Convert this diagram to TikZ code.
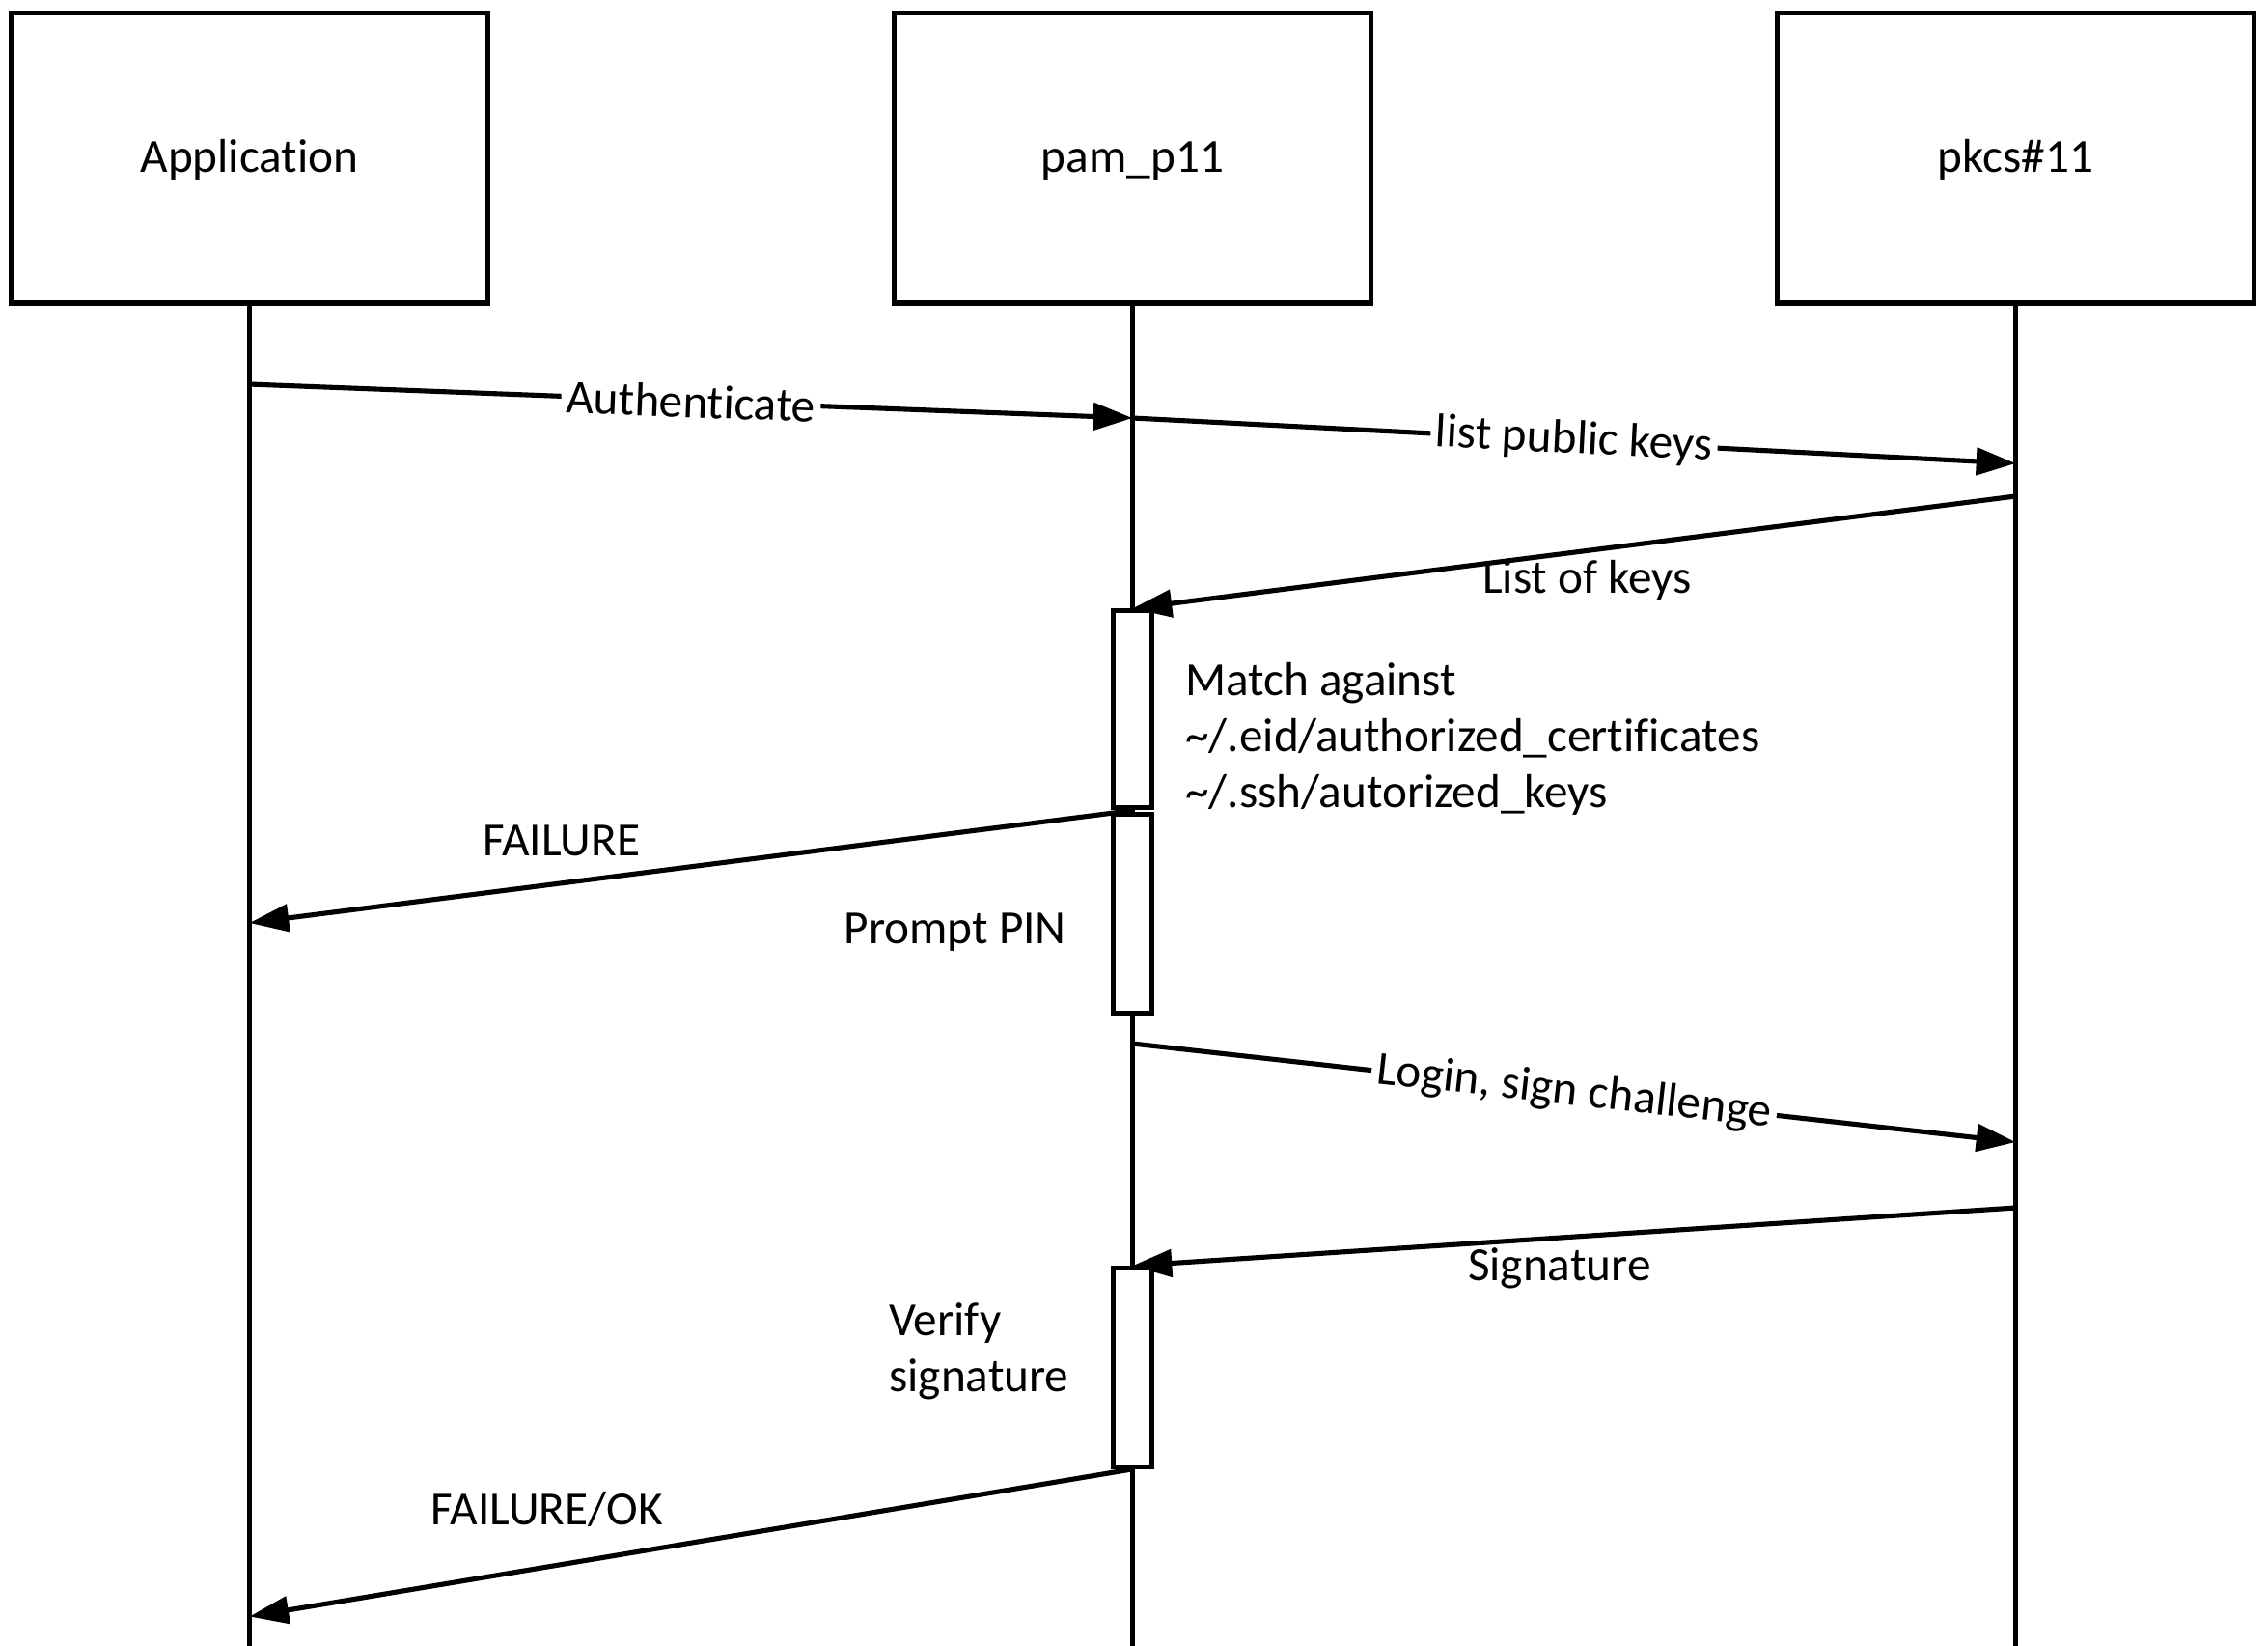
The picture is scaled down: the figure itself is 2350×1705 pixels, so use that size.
\documentclass[tikz,border=0pt]{standalone}
\usepackage{fontspec}
\setmainfont{Carlito}[Ligatures={NoCommon}]
\usetikzlibrary{arrows.meta}
\begin{document}
\begin{tikzpicture}[x=0.01cm,y=-0.01cm,
  every node/.style={font=\fontsize{14pt}{16.6pt}\selectfont},
  actor/.style={draw, line width=1.6pt, minimum width=4.94cm, minimum height=3.0cm,
    text height=10.5pt, text depth=2.1pt, inner sep=0pt},
  lifeline/.style={line width=1.2pt},
  actbox/.style={draw, fill=white, line width=1.3pt, minimum width=0.4cm, inner sep=0pt},
  msg/.style={line width=1.45pt, -{Triangle[length=11.6pt,width=8pt]}},
  onmsg/.style={sloped, fill=white, inner sep=1.5pt, midway},
  txt/.style={inner sep=0pt, anchor=base}]
\useasboundingbox (0,0) rectangle (2350,1705);
% actors
\node[actor] (app) at (258.5,163.6) {Application};
\node[actor] (pam) at (1173.5,163.6) {pam\_p11};
\node[actor] (pk) at (2088.5,163.6) {pkcs\#11};
% lifelines
\coordinate (appEnd) at (258.5,1705);
\coordinate (pamEnd) at (1173.5,1705);
\coordinate (pkEnd) at (2088.5,1705);
\draw[lifeline] (app.south) -- (appEnd);
\draw[lifeline] (pam.south) -- (pamEnd);
\draw[lifeline] (pk.south) -- (pkEnd);
% activation boxes
\node[actbox, minimum height=2.04cm] (act1) at (1173.5,734.6) {};
\node[actbox, minimum height=2.06cm] (act2) at (1173.5,946.7) {};
\node[actbox, minimum height=2.06cm] (act3) at (1173.5,1416.5) {};
% message end points
\coordinate (m1s) at (258.5,398);
\coordinate (m1e) at (1173.5,433);
\coordinate (m2e) at (2088.5,480);
\coordinate (m3s) at (2088.5,514);
\coordinate (m4s) at (1173.5,839.5);
\coordinate (m4e) at (258.5,956);
\coordinate (m5s) at (1173.5,1081);
\coordinate (m5e) at (2088.5,1183);
\coordinate (m6s) at (2088.5,1251);
\coordinate (m7e) at (258.5,1674.5);
% messages
\draw[msg] (m1s) -- node[onmsg] (lAuth) {Authenticate} (m1e);
\draw[msg] (m1e) -- node[onmsg] (lList) {list public keys} (m2e);
\draw[msg] (m3s) -- (act1.north);
\draw[msg] (m4s) -- (m4e);
\draw[msg] (m5s) -- node[onmsg] (lLogin) {Login, sign challenge} (m5e);
\draw[msg] (m6s) -- (act3.north);
\draw[msg] (act3.south) -- (m7e);
% free labels
\node[txt] (lKeys) at (1644.5,614) {List of keys};
\node[txt] (lFail) at (581.7,886.6) {FAILURE};
\node[txt, anchor=base west] (lMatch) at (1227.6,720)
  {\begin{tabular}[t]{@{}l@{}}Match against\\ \textasciitilde/.eid/authorized\_certificates\\ \textasciitilde/.ssh/autorized\_keys\end{tabular}};
\node[txt, anchor=base west] (lPin) at (874,977.8) {Prompt PIN};
\node[txt] (lSig) at (1615.8,1326) {Signature};
\node[txt, anchor=base west] (lVerify) at (920.7,1383)
  {\begin{tabular}[t]{@{}l@{}}Verify\\ signature\end{tabular}};
\node[txt] (lFailOk) at (566.8,1579.2) {FAILURE/OK};
\end{tikzpicture}
\end{document}
